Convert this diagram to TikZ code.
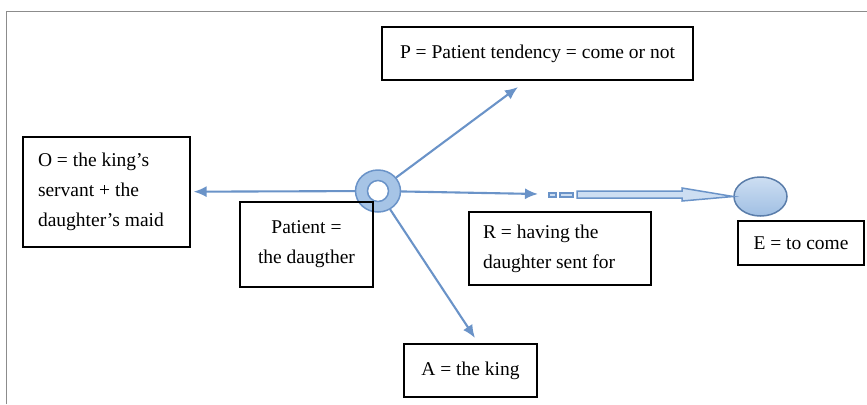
\documentclass[tikz,border=0pt]{standalone}
\usepackage{fontspec}
\setmainfont{Liberation Serif}
\usetikzlibrary{shapes.geometric, arrows.meta}
\definecolor{linkblue}{RGB}{106,147,200}
\definecolor{ringblue}{RGB}{166,196,230}
\definecolor{paleblue}{RGB}{205,222,242}
\definecolor{framegray}{RGB}{140,140,140}
\tikzset{
    box/.style={draw, line width=0.6pt, inner sep=0pt, font=\fontsize{11.1}{17.1}\selectfont},
    link/.style={draw=linkblue, line width=0.42mm, -{Latex[length=2.6mm, width=2.2mm]}},
    blob/.style={draw=linkblue!85!black, line width=0.3mm},
}
\begin{document}
\begin{tikzpicture}[x=0.2mm, y=-0.2mm]
        \useasboundingbox (0, 0) rectangle (867, 404);
        \draw[framegray] (6, 404) -- (6, 11) -- (867, 11);
        \node[ellipse, minimum width=9mm, minimum height=8.4mm, inner sep=0pt] (hub) at (378, 191) {};
        \fill[ringblue, even odd rule] (hub.center) ellipse [x radius=22.5, y radius=21] (hub.center) circle [radius=10.5];
        \draw[blob, draw=linkblue] (hub.center) ellipse [x radius=22.5, y radius=21] (hub.center) circle [radius=10.5];
        \node[box, minimum width=62.2mm, minimum height=10.6mm] (P) at (537.5, 53.5) {P = Patient tendency = come or not};
        \node[box, minimum height=22mm, text width=27.4mm, inner xsep=3mm, align=flush left] (O) at (106.5, 192) {O = the king’s\\ servant + the\\ daughter’s maid};
        \node[box, minimum width=26.6mm, minimum height=17mm, align=center] (Pat) at (306.5, 244.5) {Patient =\\ the daugther};
        \node[box, minimum height=14.6mm, text width=30.8mm, inner xsep=2.8mm, align=flush left] (R) at (560, 248.5) {R = having the\\ daughter sent for};
        \node[box, minimum width=25.2mm, minimum height=8.8mm] (E) at (801, 243) {E = to come};
        \node[box, minimum width=26.6mm, minimum height=10.6mm] (A) at (470.5, 370.5) {A = the king};
        \node[ellipse, blob, top color=paleblue, bottom color=ringblue!90!linkblue, minimum width=10.6mm, minimum height=7.8mm] (goal) at (760.5, 196.5) {};
        \coordinate (ptip) at (518, 87);
        \coordinate (atip) at (475, 338);
        \coordinate (rtip) at (538, 194);
        \draw[link, shorten >=0.6mm] (hub) -- (O);
        \draw[link] (hub) -- (ptip);
        \draw[link] (hub) -- (atip);
        \draw[link] (hub) -- (rtip);
        \draw[linkblue, fill=paleblue, line width=0.3mm] (549, 193) rectangle (556, 197);
        \draw[linkblue, fill=paleblue, line width=0.3mm] (560, 193) rectangle (573, 197);
        \draw[linkblue, fill=paleblue, line width=0.3mm] (577, 191) -- (682, 191) -- (682, 188) -- (goal.west) -- (682, 201) -- (682, 198) -- (577, 198) -- cycle;
    \end{tikzpicture}
\end{document}
